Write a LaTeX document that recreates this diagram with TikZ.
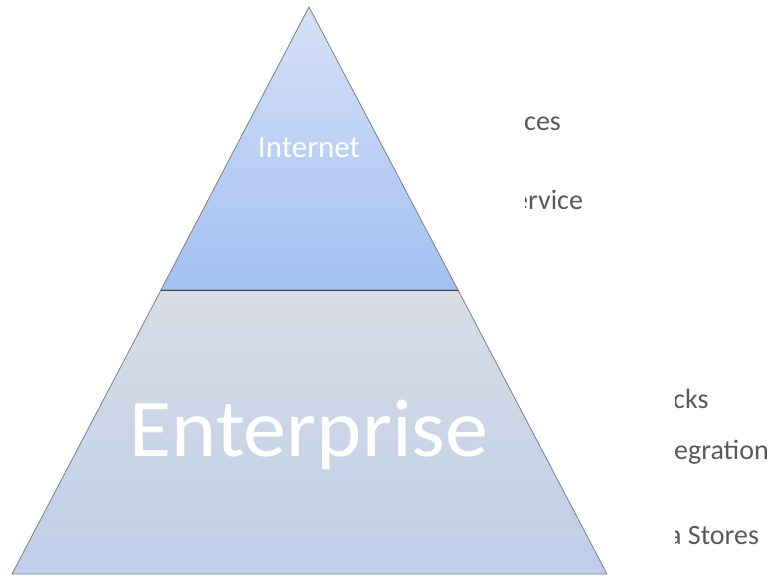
\documentclass[tikz,border=0pt]{standalone}
\usepackage{fontspec}
\newfontfamily\carlito{Carlito}
\usetikzlibrary{positioning}
\definecolor{tiptop}{RGB}{214,225,246}
\definecolor{tipbottom}{RGB}{163,191,242}
\definecolor{basetop}{RGB}{216,220,229}
\definecolor{basebottom}{RGB}{190,206,232}
\definecolor{edgegray}{RGB}{125,128,135}
\definecolor{labelgray}{RGB}{89,89,89}

\begin{document}
\begin{tikzpicture}[x=1pt, y=-1pt,
    layer/.style = {draw=edgegray, line width=0.8pt},
    bigtext/.style = {text=white, anchor=base, inner sep=0pt, xscale=1.05, font=\carlito\fontsize{82}{82}\selectfont},
    tiptext/.style = {text=white, anchor=base, inner sep=0pt, font=\carlito\fontsize{31}{31}\selectfont},
    side/.style = {text=labelgray, anchor=base west, inner sep=0pt, font=\carlito\fontsize{28}{28}\selectfont}]
  \useasboundingbox (0,0) rectangle (781,578);
  % corners
  \coordinate (apex) at (309,7);
  \coordinate (midleft) at (161,290);
  \coordinate (midright) at (458,290);
  \coordinate (baseleft) at (12,574);
  \coordinate (baseright) at (607,574);
  % layers
  \shadedraw[layer, top color=basetop, bottom color=basebottom] (midleft) -- (midright) -- (baseright) -- (baseleft) -- cycle;
  \shadedraw[layer, top color=tiptop, bottom color=tipbottom] (apex) -- (midright) -- (midleft) -- cycle;
  \draw[line width=1pt, draw=black!75] (midleft) -- (midright);
  % nodes
  \node[tiptext] (internet) at (309,157) {Internet};
  \node[bigtext] (enterprise) at (309,456) {Enterprise};
  % labels on the right
  \begin{scope}
    \clip (525,100) rectangle (781,230);
    \node[side] (services) at (524,130) {ces};
    \node[side] (webservice) at (514,209) {ervice};
  \end{scope}
  \begin{scope}
    \clip (675,380) rectangle (781,570);
    \node[side] (stacks) at (673,408) {cks};
    \node[side] (integration) at (674,459) {egration};
    \node[side] (datastores) at (668,544) {a Stores};
  \end{scope}
\end{tikzpicture}
\end{document}
